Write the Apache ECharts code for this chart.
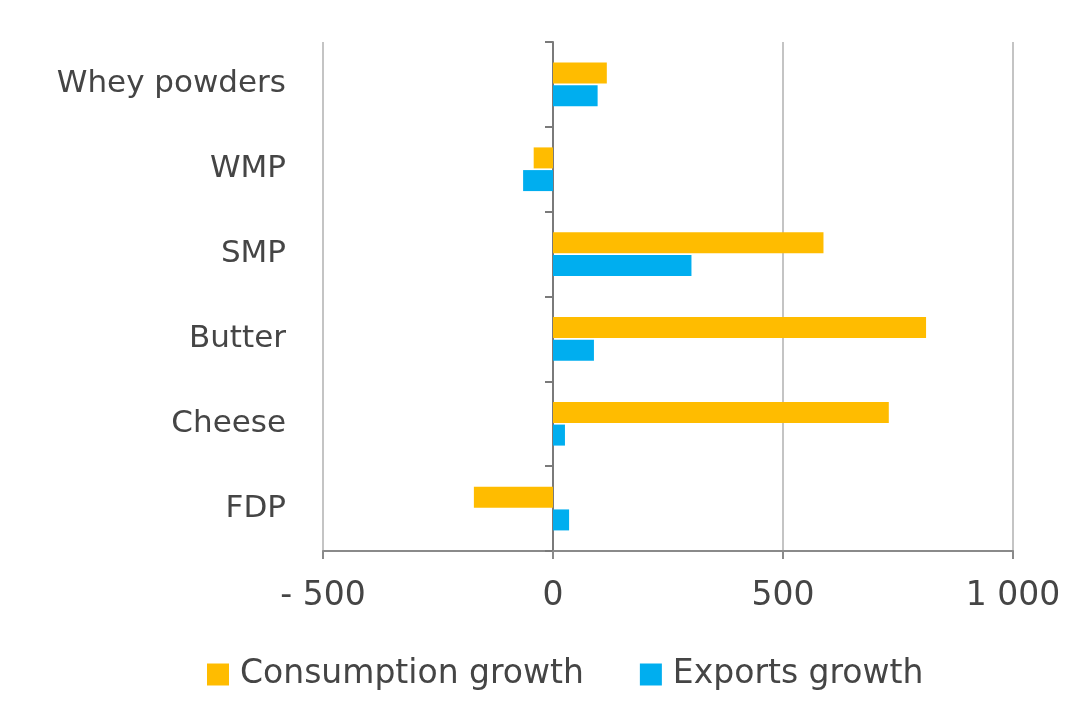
<!DOCTYPE html>
<html>
<head>
<meta charset="utf-8">
<script src="https://cdn.jsdelivr.net/npm/echarts@6/dist/echarts.min.js"></script>
<style>
  html, body { margin: 0; padding: 0; background: #fff; }
  #main { width: 1086px; height: 704px; }
</style>
</head>
<body>
<div id="main"></div>
<script>
// categories, top to bottom
var products = ['Whey powders', 'WMP', 'SMP', 'Butter', 'Cheese', 'FDP']
var consumptionGrowth = [117, -42, 588, 811, 730, -172]
var exportsGrowth = [97, -65, 301, 89, 26, 35]
var xTicks = [-500, 0, 500, 1000]

var myChart = echarts.init(document.getElementById('main'))

// "- 500", "1 000"
function fmt(v) {
  var s = String(Math.abs(v)).replace(/\B(?=(\d{3})+(?!\d))/g, ' ')
  return v < 0 ? '- ' + s : s
}

var font = 'DejaVu Sans'
var textColor = '#454545'

var option = {
  color: ['#FFBC00', '#00AEEF'],
  textStyle: { fontFamily: font },
  grid: {
    left: 323,
    right: 73,
    top: 42,
    bottom: 153,
    outerBoundsMode: 'none',
    containLabel: false
  },
  legend: {
    bottom: 8,
    left: 202,
    itemWidth: 22,
    itemHeight: 22,
    itemGap: 56,
    icon: 'rect',
    textStyle: { fontSize: 33, color: textColor, fontFamily: font, padding: [0, 0, 0, 6] },
    data: ['Consumption growth', 'Exports growth']
  },
  xAxis: {
    type: 'value',
    min: xTicks[0],
    max: xTicks[xTicks.length - 1],
    interval: 500,
    axisLine: { show: true, lineStyle: { color: '#8a8a8a', width: 2 } },
    axisTick: { show: true, length: 8, lineStyle: { color: '#8a8a8a', width: 2 } },
    splitLine: { show: true, lineStyle: { color: '#c4c4c4', width: 2 } },
    axisLabel: {
      margin: 29,
      fontSize: 33,
      color: textColor,
      fontFamily: font,
      formatter: fmt
    }
  },
  yAxis: {
    type: 'category',
    inverse: true,
    data: products,
    axisLine: { show: true, onZero: true, lineStyle: { color: '#7a7a7a', width: 2 } },
    axisTick: { show: true, length: 8, lineStyle: { color: '#7a7a7a', width: 2 } },
    axisLabel: {
      margin: 37,
      fontSize: 31,
      color: textColor,
      fontFamily: font,
      padding: [4, 0, 0, 0]
    }
  },
  series: [
    {
      name: 'Consumption growth',
      type: 'bar',
      data: consumptionGrowth,
      barWidth: 21,
      barGap: '8%'
    },
    {
      name: 'Exports growth',
      type: 'bar',
      data: exportsGrowth,
      barWidth: 21,
      barGap: '8%'
    }
  ]
}

myChart.setOption(option)
</script>
</body>
</html>
